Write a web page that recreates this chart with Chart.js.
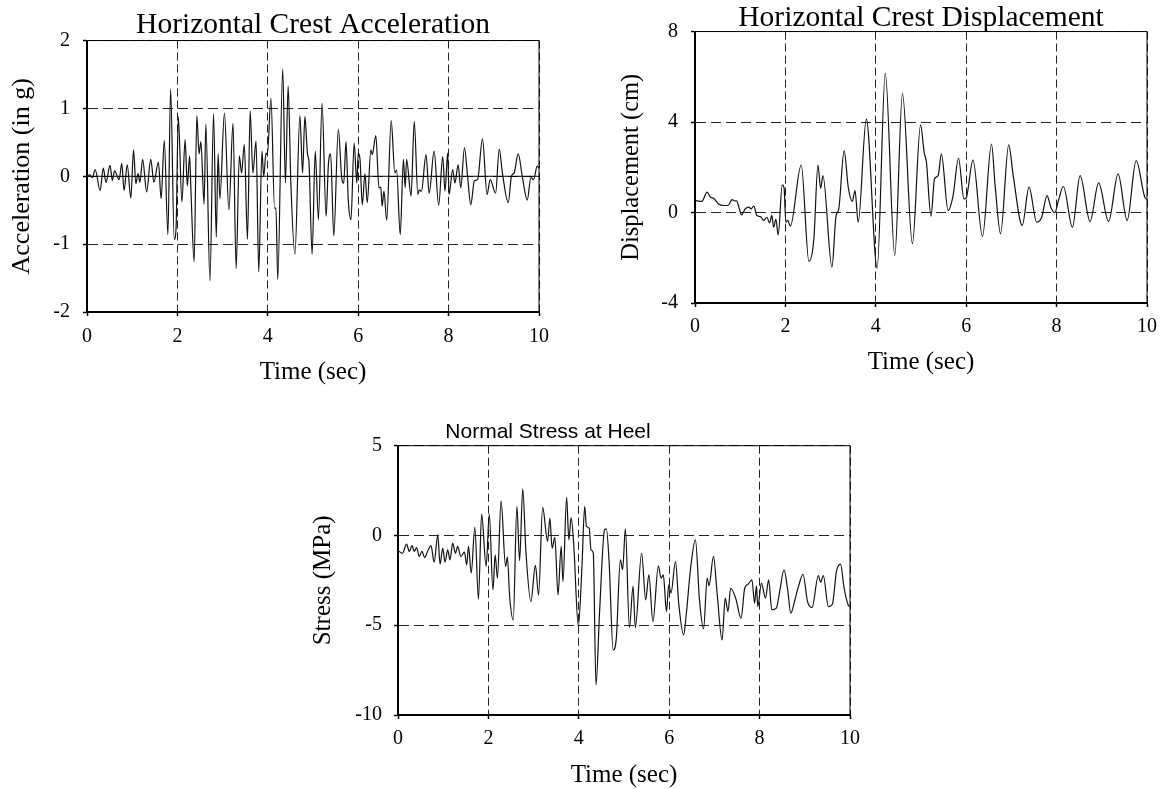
<!DOCTYPE html>
<html lang="en">
<head>
<meta charset="utf-8">
<title>Crest acceleration, displacement and heel stress</title>
<script src="https://cdn.jsdelivr.net/npm/chart.js@4.4.1/dist/chart.umd.min.js"></script>
<style>
    html, body { margin: 0; padding: 0; background: #fff; }
    body { width: 1162px; height: 789px; position: relative; overflow: hidden; }
    canvas { position: absolute; }
</style>
</head>
<body>
<canvas id="acc" width="560" height="395" style="left:0;top:0"></canvas>
<canvas id="dep" width="562" height="395" style="left:600px;top:0"></canvas>
<canvas id="con" width="624" height="384" style="left:246px;top:405px"></canvas>
<script>
// Valeurs (temps en s)
const graduationsTemps = [0, 2, 4, 6, 8, 10];
const graduationsAcc = [-2, -1, 0, 1, 2];
const graduationsDep = [-4, 0, 4, 8];
const graduationsCon = [-10, -5, 0, 5];

const tempsAcc = [0, 0.07, 0.12, 0.18, 0.29, 0.36, 0.42, 0.51, 0.56, 0.61, 0.71, 0.77, 0.82, 0.89, 0.97, 1.03, 1.08, 1.13, 1.17, 1.23,
    1.32, 1.41, 1.48, 1.58, 1.64, 1.71, 1.79, 1.85, 1.93, 1.97, 2.02, 2.10, 2.17, 2.22, 2.27, 2.30, 2.37, 2.43, 2.48, 2.52,
    2.59, 2.63, 2.72, 2.80, 2.86, 2.90, 2.94, 3.04, 3.14, 3.23, 3.30, 3.37, 3.42, 3.48, 3.55, 3.61, 3.67, 3.74, 3.80, 3.87,
    3.91, 3.96, 3.99, 4.07, 4.15, 4.18, 4.22, 4.33, 4.39, 4.45, 4.51, 4.60, 4.71, 4.77, 4.82, 4.88, 4.91, 4.98, 5.05, 5.12,
    5.20, 5.29, 5.34, 5.39, 5.46, 5.56, 5.64, 5.68, 5.73, 5.78, 5.84, 5.91, 5.97, 6.00, 6.04, 6.09, 6.15, 6.20, 6.28, 6.31,
    6.39, 6.46, 6.50, 6.53, 6.57, 6.63, 6.73, 6.81, 6.85, 6.93, 7.00, 7.04, 7.07, 7.17, 7.24, 7.32, 7.35, 7.40, 7.50, 7.57,
    7.68, 7.78, 7.87, 7.92, 7.98, 8.01, 8.09, 8.14, 8.21, 8.27, 8.35, 8.42, 8.49, 8.57, 8.64, 8.75, 8.85, 8.92, 9.04, 9.12,
    9.19, 9.32, 9.39, 9.45, 9.54, 9.63, 9.74, 9.82, 9.88, 9.96, 10];
const valeursAcc = [0.01, 0.02, -0.02, 0.10, -0.21, 0.12, -0.09, 0.16, -0.06, 0.08, -0.05, 0.19, -0.21, 0.17, -0.32, 0.39, -0.11, 0.04, -0.09, 0.25,
    -0.23, 0.25, -0.09, 0.21, -0.33, 0.53, -0.86, 1.29, -0.93, -0.77, 0.88, -0.38, 0.54, -0.14, 0.30, -0.21, -1.26, 0.89, 0.33, 0.51,
    -0.41, 0.77, -1.54, 0.92, -0.90, 0.33, -0.33, 0.93, -0.50, 0.78, -1.36, 0.30, 0.05, 0.47, -0.93, 0.96, 0.05, 0.52, -1.41, 0.37,
    0.00, 0.34, 0.32, 1.15, -0.47, -0.47, -1.52, 1.58, -0.10, 1.33, -0.10, -1.15, 0.89, 0.05, 0.88, 0.32, 0.22, -1.15, 0.37, -0.64,
    1.08, -0.59, 0.17, 0.33, -0.88, 0.69, -0.05, -0.10, 0.51, -0.34, -0.64, 0.49, -0.10, 0.34, 0.25, -0.42, 0.04, -0.39, 0.39, 0.32,
    0.60, -0.17, -0.16, -0.44, -0.22, -0.65, 0.82, 0.05, 0.09, -0.86, 0.25, -0.17, 0.25, -0.29, 0.81, -0.27, -0.20, -0.22, 0.32, -0.25,
    0.37, -0.43, 0.29, -0.22, 0.34, -0.27, 0.10, -0.10, 0.17, -0.17, 0.42, 0.00, -0.42, -0.07, -0.05, 0.55, -0.27, -0.05, -0.25, 0.40,
    0.05, -0.39, 0.00, 0.05, 0.33, 0.00, -0.35, -0.02, -0.05, 0.15, 0.12];

const tempsDep = [0, 0.15, 0.27, 0.34, 0.41, 0.52, 0.63, 0.73, 0.82, 0.88, 0.92, 0.97, 1.03, 1.11, 1.19, 1.24, 1.30, 1.37, 1.45, 1.52,
    1.59, 1.65, 1.70, 1.74, 1.79, 1.84, 1.93, 1.97, 2.01, 2.05, 2.11, 2.35, 2.52, 2.63, 2.72, 2.78, 2.83, 3.03, 3.12, 3.18,
    3.30, 3.39, 3.48, 3.54, 3.61, 3.79, 4.03, 4.21, 4.42, 4.59, 4.81, 4.99, 5.07, 5.12, 5.22, 5.30, 5.38, 5.45, 5.60, 5.71,
    5.83, 5.95, 6.00, 6.15, 6.36, 6.56, 6.64, 6.76, 6.94, 7.04, 7.24, 7.39, 7.56, 7.67, 7.79, 7.87, 7.96, 8.04, 8.15, 8.35,
    8.52, 8.74, 8.93, 9.15, 9.36, 9.56, 9.76, 9.95, 10];
const valeursDep = [0.53, 0.49, 0.90, 0.68, 0.63, 0.38, 0.31, 0.31, 0.57, 0.51, 0.52, 0.24, -0.10, 0.16, 0.24, 0.16, 0.28, -0.13, -0.18, -0.35,
    -0.21, -0.46, -0.13, -0.65, -0.30, -0.99, 1.22, 1.10, -0.43, -0.35, -0.60, 2.10, -2.16, -1.16, 2.10, 1.07, 1.63, -2.41, -0.15, 0.15,
    2.74, 1.12, 0.49, 0.97, -0.43, 4.13, -2.46, 6.15, -1.90, 5.26, -1.38, 3.87, 2.66, 2.22, -0.16, 1.49, 1.63, 2.59, 0.09, 0.75,
    2.40, 0.60, 0.65, 2.32, -1.06, 3.03, 1.19, -0.94, 2.99, 1.63, -0.57, 1.12, -0.43, -0.21, 0.75, 0.24, -0.01, 0.53, 1.15, -0.65,
    1.63, -0.40, 1.31, -0.40, 1.71, -0.35, 2.29, 0.68, 0.57];

const tempsCon = [0.01, 0.10, 0.19, 0.25, 0.31, 0.36, 0.41, 0.47, 0.53, 0.59, 0.66, 0.73, 0.80, 0.88, 0.93, 0.99, 1.04, 1.10, 1.15, 1.21,
    1.27, 1.32, 1.39, 1.47, 1.52, 1.56, 1.62, 1.70, 1.78, 1.85, 1.95, 2.02, 2.10, 2.15, 2.20, 2.28, 2.38, 2.42, 2.47, 2.55,
    2.63, 2.69, 2.76, 2.83, 2.94, 3.04, 3.11, 3.20, 3.31, 3.36, 3.41, 3.47, 3.54, 3.61, 3.65, 3.73, 3.78, 3.83, 3.89, 3.99,
    4.07, 4.13, 4.17, 4.23, 4.27, 4.32, 4.38, 4.46, 4.57, 4.61, 4.67, 4.76, 4.83, 4.92, 4.97, 5.03, 5.12, 5.20, 5.25, 5.39,
    5.48, 5.55, 5.64, 5.76, 5.82, 5.87, 5.94, 5.99, 6.04, 6.14, 6.21, 6.32, 6.38, 6.47, 6.58, 6.67, 6.76, 6.84, 6.88, 6.98,
    7.06, 7.17, 7.24, 7.30, 7.36, 7.47, 7.59, 7.67, 7.75, 7.83, 7.89, 7.93, 7.96, 8.04, 8.13, 8.20, 8.27, 8.37, 8.45, 8.54,
    8.62, 8.69, 8.78, 8.87, 8.96, 9.06, 9.16, 9.30, 9.35, 9.41, 9.52, 9.61, 9.70, 9.79, 9.87, 9.96, 10];
const valeursCon = [-0.86, -0.99, -0.48, -0.89, -0.56, -0.89, -0.67, -1.17, -0.89, -1.23, -0.85, -0.56, -1.49, 0.04, -1.60, -0.71, -1.49, -0.80, -1.36, -0.43,
    -0.99, -0.61, -1.17, -0.93, -1.64, -0.61, -2.10, 0.45, -3.55, 1.19, -1.73, 1.19, -3.03, -1.08, -2.38, 1.93, -1.73, -1.20, -3.40, -4.70,
    1.62, -1.40, 2.60, -0.90, -3.68, -1.67, -3.31, 1.56, -0.33, 0.97, -0.71, -0.11, -3.31, -0.61, -2.57, 2.12, -0.24, 1.00, -0.61, -5.07,
    -1.73, 1.62, 0.50, 0.41, -0.80, -0.99, -8.33, -4.24, 0.32, 0.37, -1.45, -6.38, -5.72, -1.36, -1.91, 0.37, -5.13, -2.84, -5.13, -0.99,
    -3.59, -2.19, -4.80, -1.69, -2.38, -2.20, -4.24, -2.75, -3.20, -1.45, -3.77, -5.54, -4.33, -1.91, -0.24, -3.59, -5.20, -2.38, -2.80, -1.17,
    -3.22, -5.82, -3.49, -4.24, -2.94, -3.49, -4.61, -2.94, -2.70, -2.47, -3.77, -2.80, -3.96, -2.66, -3.49, -2.47, -4.14, -4.05, -3.03, -1.91,
    -3.00, -4.33, -3.59, -2.75, -2.16, -3.68, -4.01, -2.23, -2.60, -2.23, -3.96, -3.83, -2.01, -1.60, -2.94, -3.87, -3.96];

const SERIF = '"Liberation Serif", "Times New Roman", serif';
const SANS = '"Liberation Sans", Arial, sans-serif';

// Cadre fin en haut et à droite, plus une ligne du zéro continue si demandé
const cadre = {
    id: 'cadre',
    beforeDatasetsDraw(chart, args, opts) {
        const { ctx, chartArea: a } = chart;
        ctx.save();
        ctx.strokeStyle = '#000';
        ctx.lineWidth = 1;
        ctx.beginPath();
        ctx.moveTo(a.left, a.top);
        ctx.lineTo(a.right, a.top);
        ctx.lineTo(a.right, a.bottom);
        if (opts.zero) {
            const y = chart.scales.y.getPixelForValue(0);
            ctx.moveTo(a.left, y);
            ctx.lineTo(a.right, y);
        }
        ctx.stroke();
        ctx.restore();
    }
};

function assembler(temps, valeurs) {
    /**
     * Regroupe deux tableaux en points {x, y} pour Chart.js
     */
    return temps.map((t, i) => ({ x: t, y: valeurs[i] }));
}

function creerGraphique(id, reglages) {
    /**
     * @param {string} id - identifiant du canvas
     * @param {object} reglages - données, graduations, titres et marges du graphique
     */
    const r = reglages;
    new Chart(document.getElementById(id), {
        type: 'line',
        data: {
            datasets: [{
                data: assembler(r.temps, r.valeurs),
                borderColor: '#111',
                borderWidth: 1.2,
                pointRadius: 0,
                cubicInterpolationMode: 'monotone',
            }],
        },
        plugins: [cadre],
        options: {
            responsive: false,
            animation: false,
            layout: { padding: { left: 0, right: r.margeDroite, top: 0, bottom: 0 } },
            plugins: {
                legend: { display: false },
                tooltip: { enabled: false },
                cadre: { zero: r.zeroPlein },
                title: {
                    display: true,
                    fullSize: r.titrePleineLargeur,
                    text: r.titre,
                    color: '#000',
                    font: r.policeTitre,
                    padding: r.margeTitre,
                },
            },
            scales: {
                x: {
                    type: 'linear',
                    min: 0,
                    max: 10,
                    afterBuildTicks: s => { s.ticks = graduationsTemps.map(v => ({ value: v })); },
                    afterFit: s => { s.height = r.hauteurX; s.paddingLeft = 0; s.paddingRight = 0; },
                    grid: { color: '#222', lineWidth: 1, tickLength: 4, tickColor: '#000', tickWidth: 1.5 },
                    border: { color: '#000', width: 2, dash: [8, 4] },
                    ticks: { color: '#000', padding: r.padTicksX, font: { family: SERIF, size: 20 } },
                    title: {
                        display: true,
                        text: 'Time (sec)',
                        color: '#000',
                        font: { family: SERIF, size: 25, lineHeight: 1 },
                        padding: { top: 0, bottom: r.padTitreX },
                    },
                },
                y: {
                    min: r.graduations[0],
                    max: r.graduations[r.graduations.length - 1],
                    afterBuildTicks: s => { s.ticks = r.graduations.map(v => ({ value: v })); },
                    afterFit: s => { s.width = r.largeurY; s.paddingTop = 0; s.paddingBottom = 0; },
                    grid: { color: '#222', lineWidth: 1, tickLength: 4, tickColor: '#000', tickWidth: 1.5 },
                    border: { color: '#000', width: 2, dash: [10, 5] },
                    ticks: { color: '#000', padding: r.padTicksY, font: { family: SERIF, size: 20 } },
                    title: {
                        display: true,
                        text: r.titreY,
                        color: '#000',
                        font: { family: SERIF, size: r.tailleTitreY, lineHeight: 1 },
                        padding: { top: r.padTitreY, bottom: 0 },
                    },
                },
            },
        },
    });
}

creerGraphique('acc', {
    temps: tempsAcc, valeurs: valeursAcc, graduations: graduationsAcc,
    titre: 'Horizontal Crest Acceleration', titreY: 'Acceleration (in g)', tailleTitreY: 26,
    policeTitre: { family: SERIF, size: 29.5, weight: 'normal', lineHeight: 0.9 },
    margeTitre: { top: 12, bottom: 2 }, titrePleineLargeur: false,
    margeDroite: 21, largeurY: 87, hauteurX: 83,
    padTicksX: 9, padTicksY: 13, padTitreX: 10.5, padTitreY: 9, zeroPlein: true,
});

creerGraphique('dep', {
    temps: tempsDep, valeurs: valeursDep, graduations: graduationsDep,
    titre: 'Horizontal Crest Displacement', titreY: 'Displacement (cm)', tailleTitreY: 24.5,
    policeTitre: { family: SERIF, size: 29.5, weight: 'normal', lineHeight: 0.9 },
    margeTitre: { top: 5, bottom: 0 }, titrePleineLargeur: false,
    margeDroite: 15, largeurY: 95, hauteurX: 92,
    padTicksX: 8, padTicksY: 13, padTitreX: 20.5, padTitreY: 19.5, zeroPlein: false,
});

creerGraphique('con', {
    temps: tempsCon, valeurs: valeursCon, graduations: graduationsCon,
    titre: 'Normal Stress at Heel', titreY: 'Stress (MPa)', tailleTitreY: 25,
    policeTitre: { family: SANS, size: 21, weight: 'normal', lineHeight: 1 },
    margeTitre: { top: 16.5, bottom: 3.2 }, titrePleineLargeur: true,
    margeDroite: 20, largeurY: 152, hauteurX: 74,
    padTicksX: 8, padTicksY: 12, padTitreX: 1.5, padTitreY: 64.5, zeroPlein: false,
});
</script>
</body>
</html>
